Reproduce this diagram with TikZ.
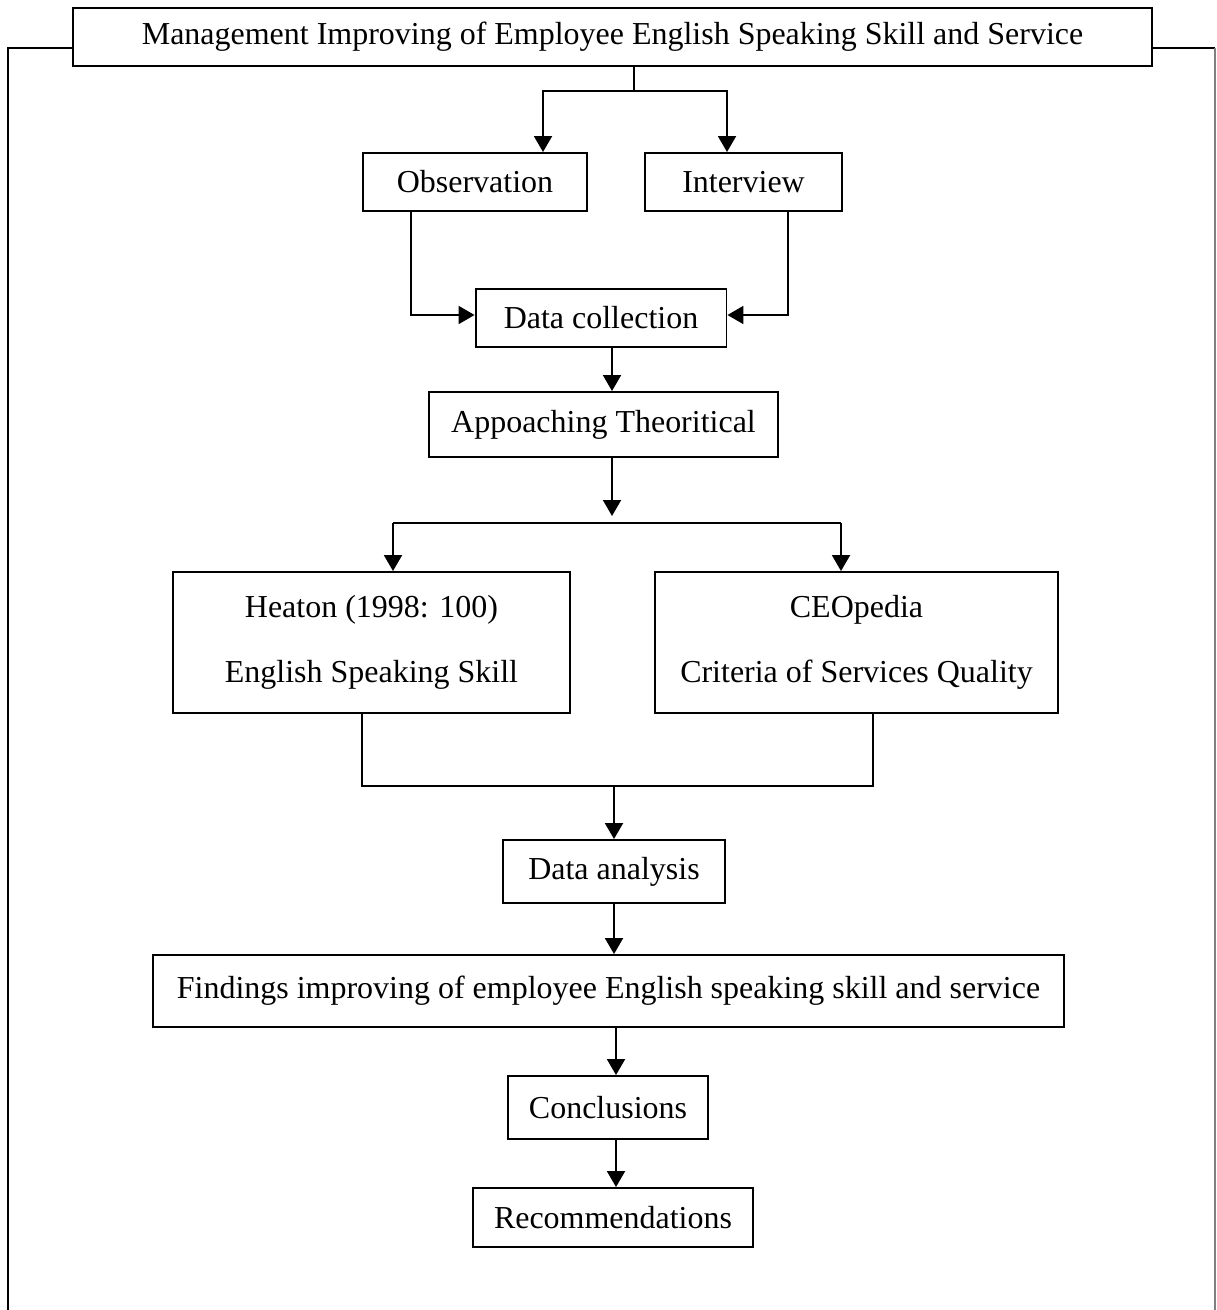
\documentclass[tikz,border=0pt]{standalone}
\usepackage{fontspec}
\setmainfont{Liberation Serif}
\usetikzlibrary{arrows.meta}
\tikzset{
    caja/.style={draw, line width=1.1pt, align=center, inner sep=0pt,
        font=\fontsize{18.2}{37}\selectfont},
    linea/.style={line width=1.1pt},
    flecha/.style={line width=1.1pt, -{Triangle[length=0.32cm,width=0.36cm]}},
}
\begin{document}
\begin{tikzpicture}[x=0.02cm, y=-0.02cm]
        \useasboundingbox (0,0) rectangle (1216,1310);
        % Titulo
        \node[caja, minimum width=21.58cm, minimum height=1.16cm] (titulo) at (612.5,37)
            {Management Improving of Employee English Speaking Skill and Service};
        % Marco
        \coordinate (mizq) at (8,48);
        \coordinate (mder) at (1215,48);
        \draw[line width=1.4pt] (8,1310) -- (mizq) -- (mizq -| titulo.west);
        \draw[linea] (titulo.east |- mder) -- (mder);
        \draw[gray, line width=0.8pt] (mder) -- (1215,1310);

        % Recogida de datos
        \node[caja, minimum width=4.48cm, minimum height=1.16cm] (obs) at (475,182) {Observation};
        \node[caja, minimum width=3.94cm, minimum height=1.16cm] (ent) at (743.5,182) {Interview};
        \node[caja, minimum width=5.02cm, minimum height=1.16cm] (datos) at (601,318) {Data collection};
        \node[caja, minimum width=6.98cm, minimum height=1.3cm] (teoria) at (603.5,424.5) {Appoaching Theoritical};

        % Teorias
        \node[caja, minimum width=7.94cm, minimum height=2.82cm] (heaton) at (371.5,642.5)
            {Heaton (1998: 100)\\English Speaking Skill};
        \node[caja, minimum width=8.06cm, minimum height=2.82cm] (ceo) at (856.5,642.5)
            {CEOpedia\\Criteria of Services Quality};

        % Resultados
        \node[caja, minimum width=4.44cm, minimum height=1.26cm] (analisis) at (614,871.5) {Data analysis};
        \node[caja, minimum width=18.22cm, minimum height=1.44cm] (hallazgos) at (608.5,991)
            {Findings improving of employee English speaking skill and service};
        \node[caja, minimum width=4cm, minimum height=1.26cm] (concl) at (608,1107.5) {Conclusions};
        \node[caja, minimum width=5.6cm, minimum height=1.18cm] (recom) at (613,1217.5) {Recommendations};

        % Ramas de arriba
        \coordinate (r1) at (634,91);
        \coordinate (r1o) at (543,91);
        \coordinate (r1e) at (727,91);
        \draw[linea] (titulo.south -| r1) -- (r1);
        \draw[flecha] (r1) -- (r1o) -- (r1o |- obs.north);
        \draw[flecha] (r1) -- (r1e) -- (r1e |- ent.north);
        \coordinate (c1) at (411,315);
        \coordinate (c2) at (788,315);
        \draw[flecha] (obs.south -| c1) -- (c1) -- (c1 -| datos.west);
        \draw[flecha] (ent.south -| c2) -- (c2) -- (c2 -| datos.east);
        \coordinate (eje) at (612,0);
        \draw[flecha] (datos.south -| eje) -- (teoria.north -| eje);

        % Ramas de las teorias
        \coordinate (r2) at (612,516);
        \coordinate (r2h) at (393,523);
        \coordinate (r2c) at (841,523);
        \draw[flecha] (teoria.south -| eje) -- (r2);
        \draw[linea] (r2h) -- (r2c);
        \draw[flecha] (r2h) -- (r2h |- heaton.north);
        \draw[flecha] (r2c) -- (r2c |- ceo.north);

        % Union hacia el analisis
        \coordinate (r3h) at (362,786);
        \coordinate (r3c) at (873,786);
        \draw[linea] (heaton.south -| r3h) -- (r3h) -- (r3c) -- (ceo.south -| r3c);
        \draw[flecha] (r3h -| analisis.north) -- (analisis.north);
        \draw[flecha] (analisis.south) -- (hallazgos.north -| analisis.south);
        \coordinate (eje2) at (616,0);
        \draw[flecha] (hallazgos.south -| eje2) -- (concl.north -| eje2);
        \draw[flecha] (concl.south -| eje2) -- (recom.north -| eje2);
\end{tikzpicture}
\end{document}
